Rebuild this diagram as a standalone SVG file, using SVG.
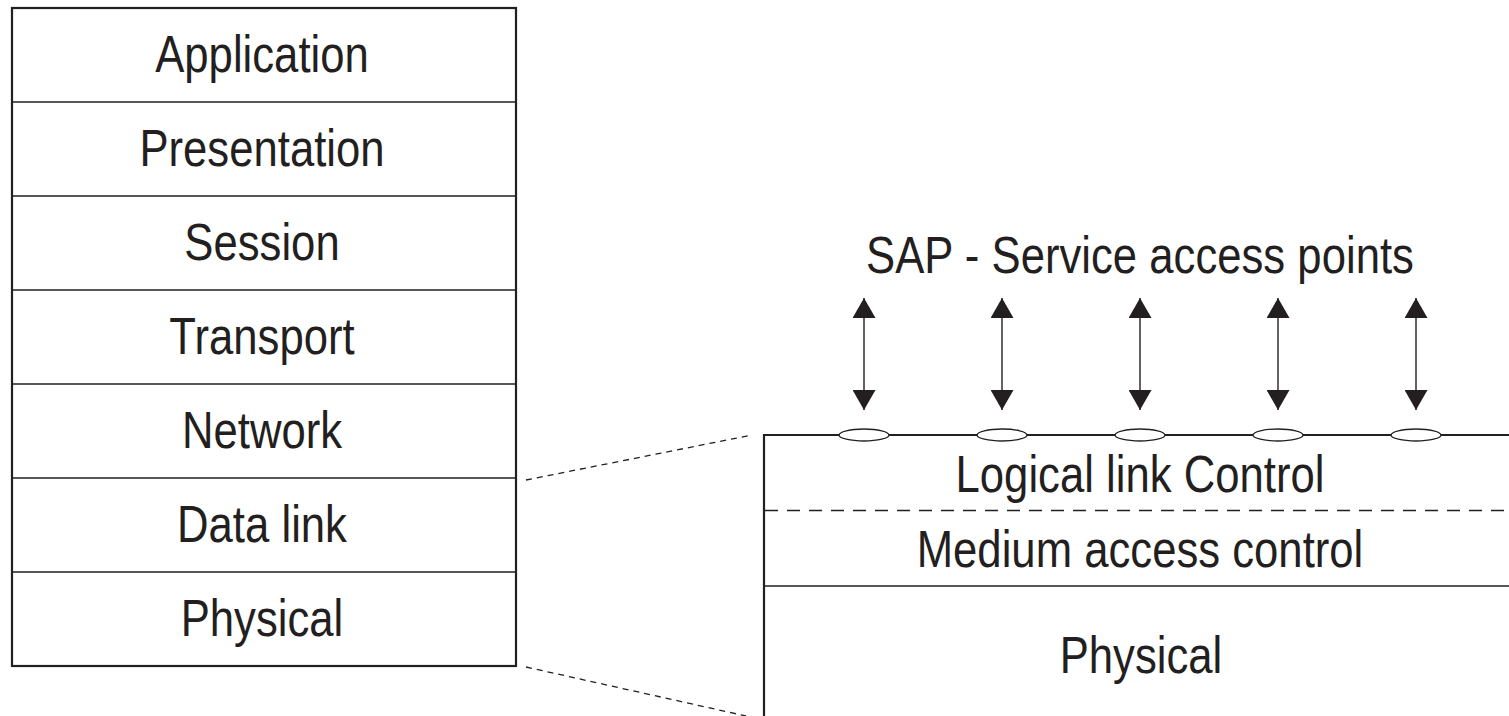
<svg xmlns="http://www.w3.org/2000/svg" width="1509" height="716" viewBox="0 0 1509 716">
<style>
.t{font-family:"Liberation Sans",Arial,sans-serif;font-size:52px;fill:#231f20;text-anchor:middle}
.thin{stroke:#231f20;stroke-width:1.4;fill:none}
.thick{stroke:#231f20;stroke-width:2.2;fill:none}
.zoom{stroke:#231f20;stroke-width:1.3;stroke-dasharray:6 5;fill:none}
.sap{fill:#fff;stroke:#231f20;stroke-width:1.3}
</style>
<defs>
<marker id="ah" viewBox="0 0 20 23" refX="20" refY="11.5" markerWidth="20" markerHeight="23" markerUnits="userSpaceOnUse" orient="auto-start-reverse">
<path d="M0,0 L20,11.5 L0,23 Z" fill="#231f20"/>
</marker>
</defs>
<rect width="1509" height="716" fill="#fff"/>
<g id="osi-stack">
<rect class="thick" x="12" y="8" width="504" height="658"/>
<line class="thin" x1="12" y1="102" x2="516" y2="102"/>
<line class="thin" x1="12" y1="196" x2="516" y2="196"/>
<line class="thin" x1="12" y1="290" x2="516" y2="290"/>
<line class="thin" x1="12" y1="384" x2="516" y2="384"/>
<line class="thin" x1="12" y1="478" x2="516" y2="478"/>
<line class="thin" x1="12" y1="572" x2="516" y2="572"/>
</g>
<g id="osi-application"><text class="t" transform="translate(262,72) scale(0.84,1)">Application</text></g>
<g id="osi-presentation"><text class="t" transform="translate(262,166) scale(0.84,1)">Presentation</text></g>
<g id="osi-session"><text class="t" transform="translate(262,260) scale(0.84,1)">Session</text></g>
<g id="osi-transport"><text class="t" transform="translate(262,354) scale(0.84,1)">Transport</text></g>
<g id="osi-network"><text class="t" transform="translate(262,448) scale(0.84,1)">Network</text></g>
<g id="osi-datalink"><text class="t" transform="translate(262,542) scale(0.84,1)">Data link</text></g>
<g id="osi-physical"><text class="t" transform="translate(262,636) scale(0.84,1)">Physical</text></g>

<g id="lan-stack">
<line class="thick" x1="764" y1="435" x2="1509" y2="435"/>
<line class="thick" x1="764" y1="434" x2="764" y2="716"/>
<line class="thin" x1="765" y1="510.5" x2="1509" y2="510.5" stroke-dasharray="13 9"/>
<line class="thin" x1="765" y1="586" x2="1509" y2="586"/>
</g>
<g id="lan-llc"><text class="t" transform="translate(1140,492) scale(0.84,1)">Logical link Control</text></g>
<g id="lan-mac"><text class="t" transform="translate(1140,567) scale(0.84,1)">Medium access control</text></g>
<g id="lan-physical"><text class="t" transform="translate(1141,673) scale(0.84,1)">Physical</text></g>
<g id="sap-label"><text class="t" transform="translate(1140,273) scale(0.84,1)">SAP - Service access points</text></g>

<g id="sap-points">
<ellipse class="sap" cx="864" cy="435" rx="25" ry="6"/>
<ellipse class="sap" cx="1002" cy="435" rx="25" ry="6"/>
<ellipse class="sap" cx="1140" cy="435" rx="25" ry="6"/>
<ellipse class="sap" cx="1278" cy="435" rx="25" ry="6"/>
<ellipse class="sap" cx="1416" cy="435" rx="25" ry="6"/>
</g>

<g id="connectors">
<line class="zoom" x1="526" y1="480" x2="752" y2="435"/>
<line class="zoom" x1="526" y1="667" x2="746" y2="716"/>
<line class="thin" x1="864" y1="298" x2="864" y2="410" marker-start="url(#ah)" marker-end="url(#ah)"/>
<line class="thin" x1="1002" y1="298" x2="1002" y2="410" marker-start="url(#ah)" marker-end="url(#ah)"/>
<line class="thin" x1="1140" y1="298" x2="1140" y2="410" marker-start="url(#ah)" marker-end="url(#ah)"/>
<line class="thin" x1="1278" y1="298" x2="1278" y2="410" marker-start="url(#ah)" marker-end="url(#ah)"/>
<line class="thin" x1="1416" y1="298" x2="1416" y2="410" marker-start="url(#ah)" marker-end="url(#ah)"/>
</g>
</svg>
